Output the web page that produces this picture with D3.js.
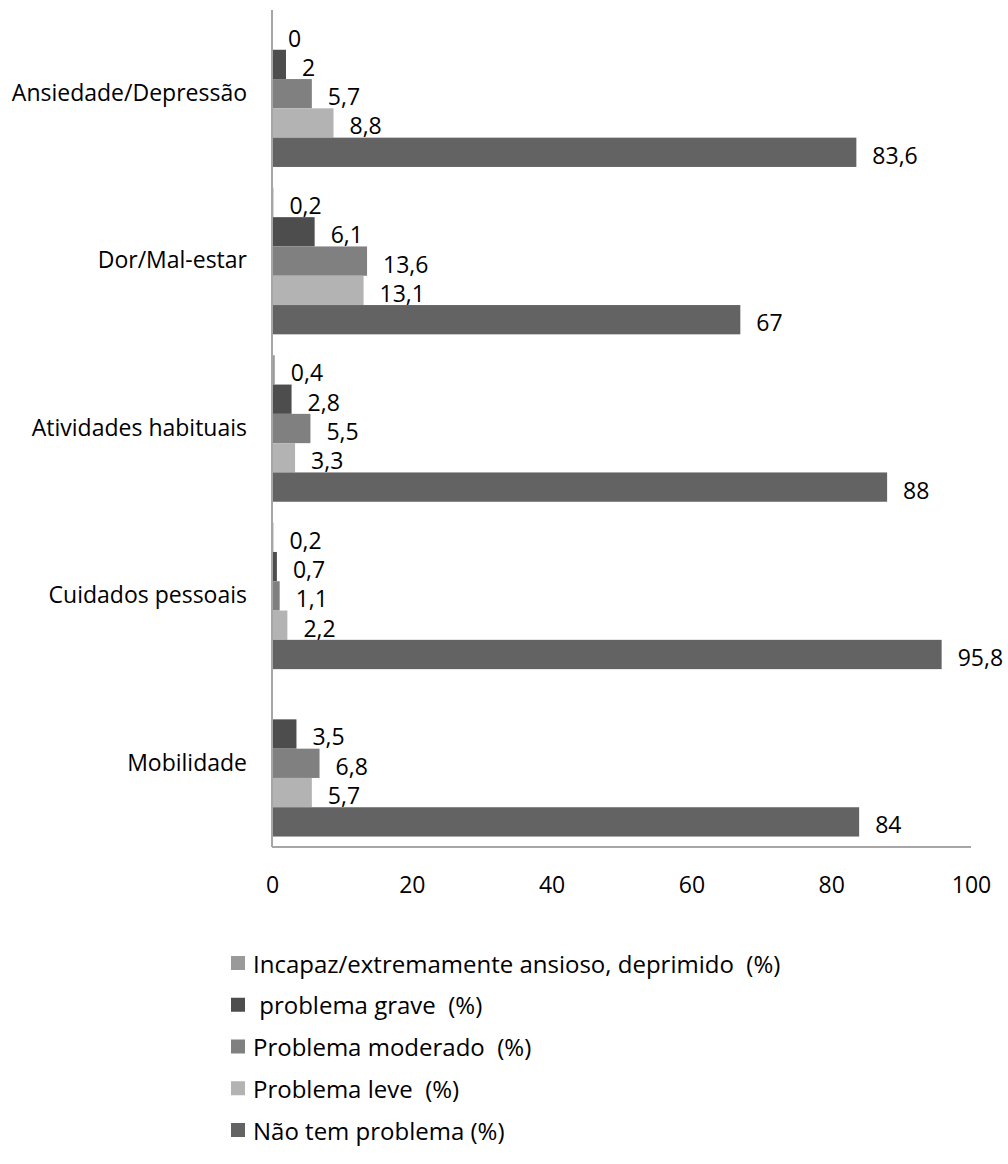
<!DOCTYPE html>
<html>
<head>
<meta charset="utf-8">
<script src="https://cdn.jsdelivr.net/npm/d3@7"></script>
<style>
  html, body { margin: 0; padding: 0; background: #fff; }
  svg text { font-family: "Open Sans", "Noto Sans", sans-serif; fill: #000; }
</style>
</head>
<body>
<svg id="chart" width="1008" height="1164"></svg>
<script>
// EQ-5D dimensions, listed top to bottom
const categories = ["Ansiedade/Depressão", "Dor/Mal-estar", "Atividades habituais", "Cuidados pessoais", "Mobilidade"];

// Series, in the order they stack inside each group (top to bottom)
const seriesNames = [
  "Incapaz/extremamente ansioso, deprimido  (%)",
  " problema grave  (%)",
  "Problema moderado  (%)",
  "Problema leve  (%)",
  "Não tem problema (%)"
];
const seriesColors = ["#9a9a9a", "#4d4d4d", "#808080", "#b3b3b3", "#636363"];

// Values per category (same order as categories); null = not reported
const incapaz   = [0,    0.2,  0.4, 0.2,  null];
const grave     = [2,    6.1,  2.8, 0.7,  3.5];
const moderado  = [5.7,  13.6, 5.5, 1.1,  6.8];
const leve      = [8.8,  13.1, 3.3, 2.2,  5.7];
const semProb   = [83.6, 67,   88,  95.8, 84];
const seriesValues = [incapaz, grave, moderado, leve, semProb];

const xTicks = [0, 20, 40, 60, 80, 100];

const svg = d3.select("#chart");
const plot = { left: 272, right: 971, top: 10, bottom: 847 };

const x = d3.scaleLinear().domain([0, 100]).range([plot.left, plot.right]);
const y = d3.scaleBand().domain(categories).range([plot.top, plot.bottom]).padding(0);
const yInner = d3.scaleBand().domain(d3.range(seriesNames.length))
  .range([0, y.bandwidth()]).paddingInner(0).paddingOuter(0.357);

const fmt = v => String(v).replace(".", ",");
const fontSize = 23;
const legendFontSize = 24;

// bars + value labels
const groups = svg.append("g").selectAll("g")
  .data(categories)
  .join("g")
  .attr("transform", d => `translate(0,${y(d)})`);

groups.each(function(cat, ci) {
  const g = d3.select(this);
  const rows = seriesValues.map((vals, si) => ({ si, v: vals[ci] })).filter(r => r.v !== null);
  g.selectAll("rect").data(rows).join("rect")
    .attr("x", x(0))
    .attr("y", r => yInner(r.si))
    .attr("width", r => x(r.v) - x(0))
    .attr("height", yInner.bandwidth())
    .attr("fill", r => seriesColors[r.si]);
  g.selectAll("text").data(rows).join("text")
    .attr("x", r => x(r.v) + 16)
    .attr("y", r => yInner(r.si) + yInner.bandwidth() / 2 + 2.5)
    .attr("dominant-baseline", "central")
    .attr("font-size", fontSize)
    .text(r => fmt(r.v));
});

// category axis
const yAxis = svg.append("g")
  .attr("transform", `translate(${plot.left},0)`)
  .call(d3.axisLeft(y).tickSize(0).tickPadding(25));
yAxis.select(".domain").attr("stroke", "#a6a6a6").attr("stroke-width", 2)
  .attr("d", `M0,${plot.top}V${plot.bottom}`);
yAxis.selectAll("text").attr("font-size", fontSize).attr("font-family", null).attr("fill", "#000");

// value axis
const xAxis = svg.append("g")
  .attr("transform", `translate(0,${plot.bottom})`)
  .call(d3.axisBottom(x).tickValues(xTicks).tickSize(0).tickPadding(30).tickFormat(d => d));
xAxis.select(".domain").attr("stroke", "#a6a6a6").attr("stroke-width", 2)
  .attr("d", `M${plot.left},0H${plot.right}`);
xAxis.selectAll("text").attr("font-size", fontSize).attr("font-family", null).attr("fill", "#000");

// legend
const legend = svg.append("g").selectAll("g")
  .data(seriesNames)
  .join("g")
  .attr("transform", (d, i) => `translate(231,${963 + i * 41.75})`);
legend.append("rect")
  .attr("x", 0).attr("y", -7).attr("width", 14).attr("height", 14)
  .attr("fill", (d, i) => seriesColors[i]);
legend.append("text")
  .attr("x", 22).attr("y", 0)
  .attr("dominant-baseline", "central")
  .attr("font-size", legendFontSize)
  .attr("xml:space", "preserve")
  .style("white-space", "pre")
  .text(d => d);
</script>
</body>
</html>
